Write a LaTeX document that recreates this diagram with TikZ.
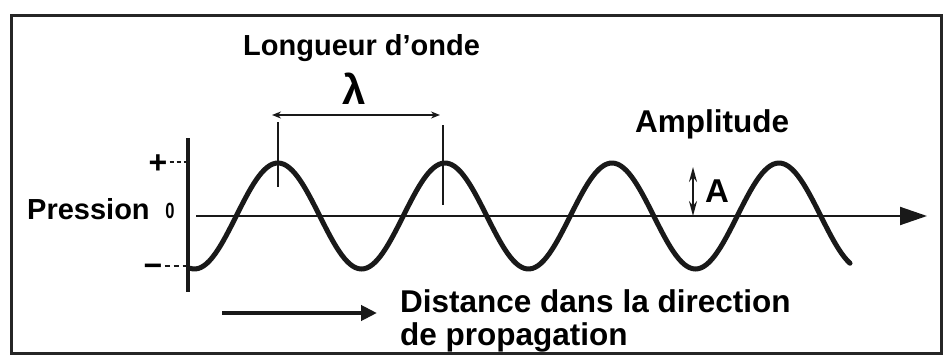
\documentclass[tikz,border=0pt]{standalone}
\usepackage{fontspec}
\setmainfont{Liberation Sans}
\usetikzlibrary{arrows.meta}
\begin{document}
\begin{tikzpicture}[x=1pt,y=-1pt,
  lbl/.style={font=\fontsize{29}{32}\selectfont\bfseries, inner sep=0pt},
  big/.style={font=\fontsize{31.5}{34}\selectfont\bfseries, inner sep=0pt},
  sml/.style={font=\fontsize{32}{34}\selectfont\bfseries, inner sep=0pt},
  thinln/.style={line width=1.6pt, draw=black!90},
  inkc/.style={draw=black!90}]
\useasboundingbox (0,0) rectangle (945,356);
\draw[line width=3pt, black!85] (11,15) rectangle (941,353);
% texts
\node[lbl, anchor=base west] (lo) at (243,55) {Longueur d’onde};
\node[font=\fontsize{42}{44}\selectfont\bfseries, inner sep=0pt] (lam) at (354,89) {λ};
\node[big, anchor=base west] (amp) at (635,132) {Amplitude};
\node[lbl, anchor=base west] (pr) at (27,219) {Pression};
\node[font=\fontsize{22}{24}\selectfont\bfseries, inner sep=0pt, xscale=0.75] (zero) at (170,211) {0};
\node[sml, anchor=base] (plus) at (158,173) {+};
\node[sml, anchor=base] (minus) at (153,276) {−};
\node[font=\fontsize{33}{36}\selectfont\bfseries, inner sep=0pt] (A) at (717,191) {A};
\node[big, anchor=base west] (d1) at (400,312) {Distance dans la direction};
\node[big, anchor=base west] (d2) at (400,345) {de propagation};
% axes
\coordinate (vt) at (188,138); \coordinate (vb) at (188,292);
\coordinate (hl) at (196,216); \coordinate (hr) at (927,216);
\draw[line width=3.5pt, inkc] (vt) -- (vb);
\draw[line width=2pt, inkc, -{Triangle[length=27pt,width=18pt]}] (hl) -- (hr);
\draw[thinln, dash pattern=on 4pt off 3pt] (plus.base east) ++(2,-11) coordinate (pe) -- (vt |- pe);
\draw[thinln, dash pattern=on 5pt off 4pt] (minus.base east) ++(2,-10) coordinate (me) -- (vb |- me);
% wave
\draw[line width=5pt, inkc, line cap=round] plot[domain=190:850, samples=240] (\x, {216-53*cos(2.15569*(\x-278))});
% wavelength marks
\coordinate (t1a) at (278,122); \coordinate (t1b) at (278,187);
\coordinate (t2a) at (443,125); \coordinate (t2b) at (443,205);
\draw[thinln] (t1a) -- (t1b);
\draw[thinln] (t2a) -- (t2b);
\coordinate (la) at (272,115); \coordinate (lb) at (440,115);
\draw[thinln, {Stealth[length=9pt,width=7pt]}-{Stealth[length=9pt,width=7pt]}] (la) -- (lb);
% amplitude arrow
\coordinate (aa) at (693,167); \coordinate (ab) at (693,216);
\draw[line width=2pt, inkc, {Stealth[length=15pt,width=8pt]}-{Stealth[length=15pt,width=8pt]}] (aa) -- (ab);
% propagation arrow
\coordinate (pa) at (222,313); \coordinate (pb) at (377,313);
\draw[line width=4.5pt, inkc, -{Triangle[length=16pt,width=15pt]}] (pa) -- (pb);
\end{tikzpicture}
\end{document}
